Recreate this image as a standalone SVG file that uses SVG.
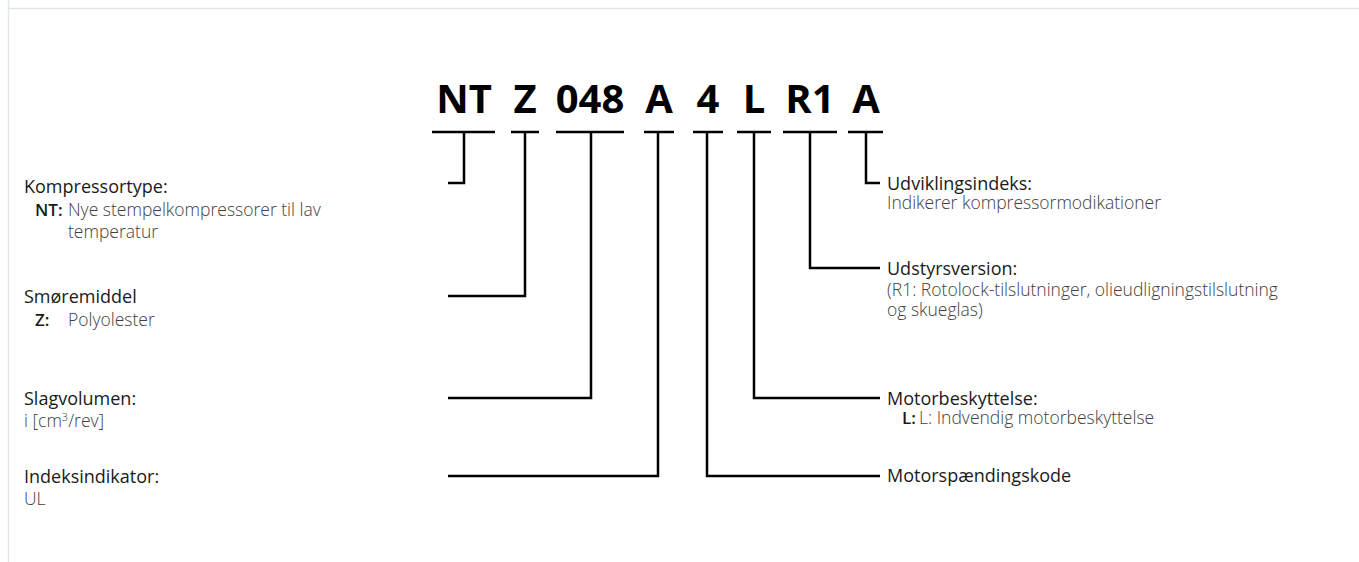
<svg xmlns="http://www.w3.org/2000/svg" width="1359" height="562" viewBox="0 0 1359 562">
<style>
.code{font-family:"Open Sans","Liberation Sans",sans-serif;font-weight:700;font-size:40px;fill:#000;text-anchor:middle}
.h{font-family:"Open Sans","Liberation Sans",sans-serif;font-size:18px;fill:#1a1a1a}
.d{font-family:"Open Sans","Liberation Sans",sans-serif;font-size:17.5px;font-weight:300;fill:#404040}
.b{font-family:"Open Sans","Liberation Sans",sans-serif;font-size:17px;font-weight:600;fill:#1a1a1a}
.ln{fill:none;stroke:#000;stroke-width:2.5}
</style>
<rect width="1359" height="562" fill="#fff"/>
<g id="frame" stroke="#dfe6ea" stroke-width="1.5" fill="none">
<line x1="8.5" y1="0" x2="8.5" y2="562"/>
<line x1="8.5" y1="8.5" x2="1359" y2="8.5"/>
</g>
<g id="code">
<text class="code" x="464" y="113">NT</text>
<text class="code" x="525" y="113">Z</text>
<text class="code" x="590" y="113">048</text>
<text class="code" x="659" y="113">A</text>
<text class="code" x="708" y="113">4</text>
<text class="code" x="754" y="113">L</text>
<text class="code" x="810" y="113">R1</text>
<text class="code" x="866" y="113">A</text>
</g>
<g id="connectors" class="ln">
<line x1="432" y1="132" x2="495" y2="132"/>
<line x1="511" y1="132" x2="539" y2="132"/>
<line x1="556" y1="132" x2="624" y2="132"/>
<line x1="644" y1="132" x2="674" y2="132"/>
<line x1="693" y1="132" x2="723" y2="132"/>
<line x1="737" y1="132" x2="771" y2="132"/>
<line x1="783" y1="132" x2="837" y2="132"/>
<line x1="848" y1="132" x2="883" y2="132"/>
<polyline points="464,132 464,183 448,183"/>
<polyline points="525,132 525,296 448,296"/>
<polyline points="591,132 591,398 448,398"/>
<polyline points="658,132 658,476 448,476"/>
<polyline points="707,132 707,476 880,476"/>
<polyline points="754,132 754,398 880,398"/>
<polyline points="810,132 810,268 880,268"/>
<polyline points="866,132 866,183 880,183"/>
</g>
<g id="n-kompressortype">
<text class="h" x="24" y="193">Kompressortype:</text>
<text class="b" x="35" y="216">NT:</text>
<text class="d" x="68" y="216">Nye stempelkompressorer til lav</text>
<text class="d" x="68" y="238">temperatur</text>
</g>
<g id="n-smoremiddel">
<text class="h" x="24" y="303">Smøremiddel</text>
<text class="b" x="35" y="326">Z:</text>
<text class="d" x="68" y="326">Polyolester</text>
</g>
<g id="n-slagvolumen">
<text class="h" x="24" y="405">Slagvolumen:</text>
<text class="d" x="24" y="427">i [cm<tspan font-size="11" dy="-6">3</tspan><tspan dy="6">/rev]</tspan></text>
</g>
<g id="n-indeks">
<text class="h" x="24" y="483">Indeksindikator:</text>
<text class="d" x="24" y="505">UL</text>
</g>
<g id="n-udvikling">
<text class="h" x="887" y="190">Udviklingsindeks:</text>
<text class="d" x="887" y="209">Indikerer kompressormodikationer</text>
</g>
<g id="n-udstyr">
<text class="h" x="887" y="275">Udstyrsversion:</text>
<text class="d" x="887" y="296">(R1: Rotolock-tilslutninger, olieudligningstilslutning</text>
<text class="d" x="887" y="316">og skueglas)</text>
</g>
<g id="n-motorbesk">
<text class="h" x="887" y="405">Motorbeskyttelse:</text>
<text class="b" x="902" y="424">L:</text>
<text class="d" x="919" y="424">L: Indvendig motorbeskyttelse</text>
</g>
<g id="n-motorspaend">
<text class="h" x="887" y="482">Motorspændingskode</text>
</g>
</svg>
